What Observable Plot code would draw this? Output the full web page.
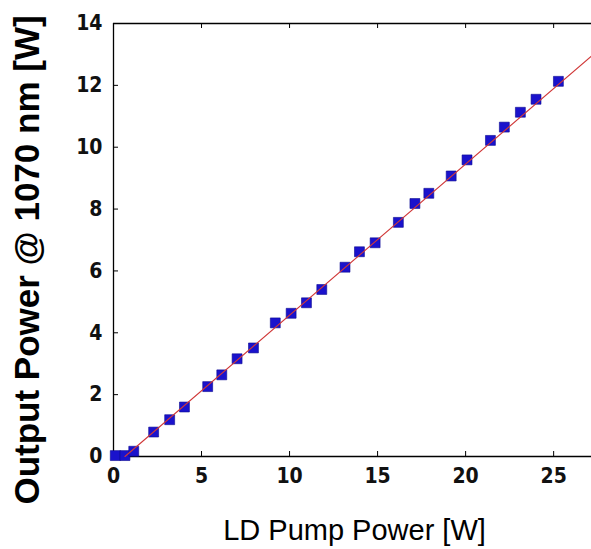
<!DOCTYPE html>
<html>
<head>
<meta charset="utf-8">
<script src="https://cdn.jsdelivr.net/npm/d3@7"></script>
<script src="https://cdn.jsdelivr.net/npm/@observablehq/plot@0.6"></script>
<style>
  html, body { margin: 0; padding: 0; background: #fff; }
  #chart svg { display: block; }
</style>
</head>
<body>
<div id="chart"></div>
<script>
const pumpPower = [0.1, 0.65, 1.15, 2.28, 3.19, 4.03, 5.35, 6.15, 7.02, 7.95, 9.19, 10.09, 10.96, 11.83, 13.15, 13.97, 14.86, 16.18, 17.12, 17.91, 19.18, 20.08, 21.41, 22.2, 23.11, 24.0, 25.27];
const outputPower = [0.03, 0.03, 0.17, 0.79, 1.19, 1.6, 2.26, 2.64, 3.16, 3.51, 4.32, 4.63, 4.97, 5.4, 6.12, 6.62, 6.91, 7.57, 8.18, 8.51, 9.07, 9.59, 10.22, 10.65, 11.13, 11.55, 12.13];
const fitX = [0.65, 27.15];
const fitY = [0, 12.95];
const xTicks = [0, 5, 10, 15, 20, 25];
const yTicks = [0, 2, 4, 6, 8, 10, 12, 14];
const xLabel = "LD Pump Power [W]";
const yLabel = "Output Power @ 1070 nm [W]";

const points = pumpPower.map((x, i) => ({x, y: outputPower[i]}));
const fit = fitX.map((x, i) => ({x, y: fitY[i]}));

const W = 591, H = 549, mL = 113, mT = 23, mB = 93, mR = 0;
const innerH = H - mT - mB, innerW = W - mL - mR;
const tickLen = 5;
const tickFont = "'Liberation Sans Narrow', 'Arial Narrow', 'DejaVu Sans Condensed', sans-serif";

const chart = Plot.plot({
  width: W, height: H,
  marginLeft: mL, marginTop: mT, marginBottom: mB, marginRight: mR,
  style: {background: "#fff", overflow: "visible"},
  x: {domain: [0, 27.15]},
  y: {domain: [0, 14]},
  marks: [
    Plot.axisX(xTicks, {anchor: "bottom", tickSize: 0, tickPadding: 12, fontSize: 21, fontWeight: "bold", fontFamily: tickFont, fill: "#111", label: null}),
    Plot.axisY(yTicks, {anchor: "left", tickSize: 0, tickPadding: 11, fontSize: 21, fontWeight: "bold", fontFamily: tickFont, fill: "#111", label: null}),
    Plot.tickX(xTicks.slice(1), {x: d => d, insetTop: innerH - tickLen, stroke: "#000"}),
    Plot.tickX(xTicks.slice(1), {x: d => d, insetBottom: innerH - tickLen, stroke: "#000"}),
    Plot.tickY(yTicks.slice(1, -1), {y: d => d, insetRight: innerW - tickLen, stroke: "#000"}),
    Plot.ruleX([0], {stroke: "#000", strokeWidth: 1.3}),
    Plot.ruleY([0], {stroke: "#000", strokeWidth: 1.3}),
    Plot.ruleY([14], {stroke: "#000", strokeWidth: 1.3}),
    Plot.dot(points, {x: "x", y: "y", symbol: "square", r: 5.6, fill: "#1a12cc", stroke: "#0c0a90", strokeWidth: 0.6}),
    Plot.line(fit, {x: "x", y: "y", stroke: "#d03838", strokeWidth: 1.1}),
    Plot.text([xLabel], {text: d => d, frameAnchor: "bottom", dy: 74, dx: 2, fontSize: 29, fontFamily: "'Liberation Sans', Arial, sans-serif", fill: "#000", lineAnchor: "middle", textAnchor: "middle"}),
    Plot.text([yLabel], {text: d => d, frameAnchor: "left", dx: -86, dy: 20, rotate: -90, fontSize: 35, fontWeight: "bold", fontFamily: "'Liberation Sans', Arial, sans-serif", fill: "#000", lineAnchor: "middle", textAnchor: "middle"})
  ]
});
document.getElementById("chart").appendChild(chart);
</script>
</body>
</html>
